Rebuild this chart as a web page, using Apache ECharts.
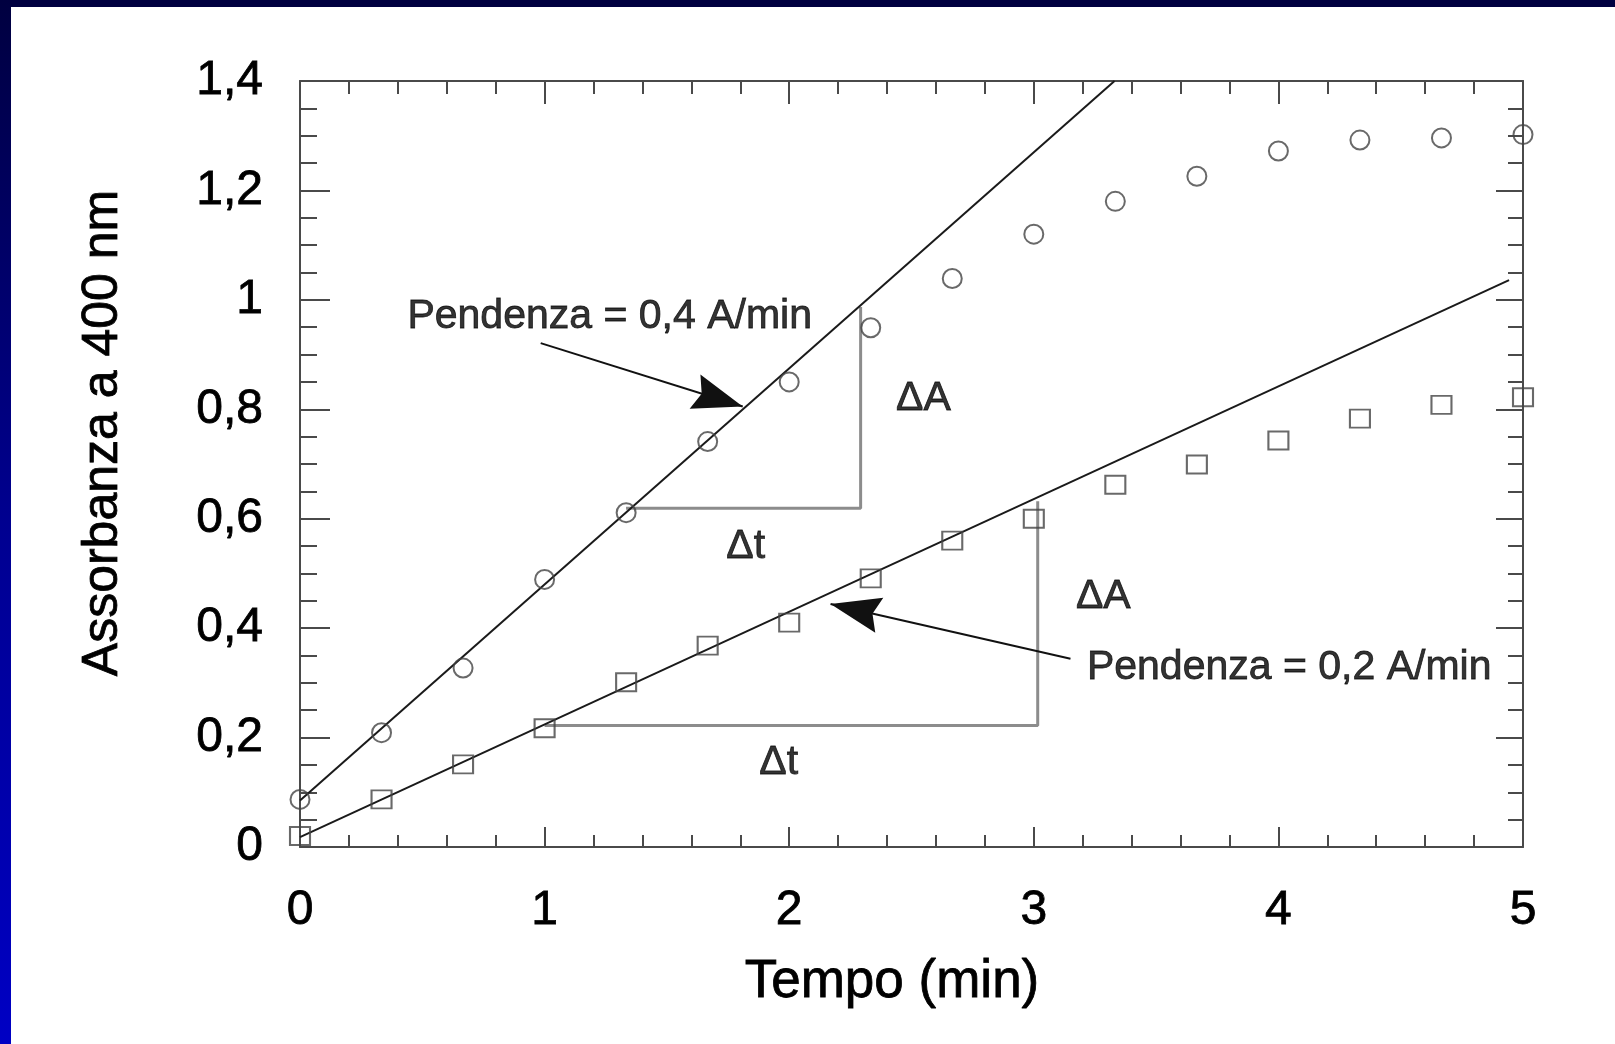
<!DOCTYPE html>
<html>
<head>
<meta charset="utf-8">
<script src="https://cdn.jsdelivr.net/npm/echarts@6/dist/echarts.min.js"></script>
<style>
html,body{margin:0;padding:0;background:#ffffff;overflow:hidden}
#c{width:1615px;height:1044px}
</style>
</head>
<body>
<div id="c"></div>
<script>
// ---- data ----
const xTickLabels = ['0','1','2','3','4','5'];
const yTickLabels = ['0','0,2','0,4','0,6','0,8','1','1,2','1,4'];
const timeMin = [0, 1/3, 2/3, 1, 4/3, 5/3, 2, 7/3, 8/3, 3, 10/3, 11/3, 4, 13/3, 14/3, 5];
const absFast = [0.087, 0.209, 0.327, 0.489, 0.611, 0.741, 0.850, 0.949, 1.039, 1.120, 1.180, 1.226, 1.272, 1.292, 1.296, 1.302];
const absSlow = [0.020, 0.087, 0.151, 0.217, 0.301, 0.368, 0.410, 0.491, 0.560, 0.600, 0.662, 0.699, 0.743, 0.783, 0.808, 0.822];
const fitFast = [[0, 0.085], [3.33, 1.4]];
const fitSlow = [[0, 0.018], [4.943, 1.036]];
const triFast = [[1.333, 0.619], [2.292, 0.619], [2.292, 0.987]];
const triSlow = [[1, 0.222], [3.016, 0.222], [3.016, 0.632]];
const arrowFrom = [[0.984, 0.921], [3.15, 0.344]];
const arrowTo = [[1.81, 0.805], [2.169, 0.444]];
const slopeLabels = ['Pendenza = 0,4 A/min', 'Pendenza = 0,2 A/min'];
const slopeLabelAt = [[0.437, 0.969], [3.215, 0.328]];
const deltaLabels = ['\u0394A', '\u0394t', '\u0394A', '\u0394t'];
const deltaLabelAt = [[2.549, 0.819], [1.822, 0.549], [3.284, 0.458], [1.957, 0.155]];
const xTitle = 'Tempo (min)';
const yTitle = 'Assorbanza a 400 nm';

const FONT = "'Liberation Sans', Arial, Helvetica, sans-serif";
const AX = '#4a4a4a';
// dart head whose tip sits at the centre of the symbol box (so the tip lands on the end point)
const DART = 'path://M0,0 M20,20 M10,10 L13.6,20 L10,18.6 L6.4,20 Z';

const chart = echarts.init(document.getElementById('c'), null, {renderer: 'canvas'});

function fmtY(v) {
  const i = Math.round(v / 0.2);
  return yTickLabels[i] !== undefined ? yTickLabels[i] : '';
}
function fmtX(v) {
  const i = Math.round(v);
  return xTickLabels[i] !== undefined ? xTickLabels[i] : '';
}

function axisStyle(majorLen, minorLen, split) {
  return {
    axisLine: {show: true, onZero: false, lineStyle: {color: AX, width: 2}},
    axisTick: {show: true, inside: true, length: majorLen, lineStyle: {color: AX, width: 2}},
    minorTick: {show: true, splitNumber: split, length: minorLen, lineStyle: {color: AX, width: 2}},
    splitLine: {show: false},
    minorSplitLine: {show: false}
  };
}
const heavy = {textBorderColor: '#000', textBorderWidth: 0.8};

const option = {
  backgroundColor: '#ffffff',
  animation: false,
  grid: {left: 300, right: 92, top: 81, bottom: 197, containLabel: false},
  xAxis: [
    Object.assign({
      type: 'value', position: 'bottom', min: 0, max: 5, interval: 1,
      axisLabel: Object.assign({show: true, margin: 40, fontSize: 48, color: '#000', fontFamily: FONT, formatter: fmtX}, heavy)
    }, axisStyle(20, 12, 5)),
    Object.assign({
      type: 'value', position: 'top', min: 0, max: 5, interval: 1,
      axisLabel: {show: false}
    }, axisStyle(23, 13, 5))
  ],
  yAxis: [
    Object.assign({
      type: 'value', position: 'left', min: 0, max: 1.4, interval: 0.2,
      axisLabel: Object.assign({show: true, margin: 37, fontSize: 48, color: '#000', fontFamily: FONT, formatter: fmtY}, heavy)
    }, axisStyle(30, 17, 4)),
    Object.assign({
      type: 'value', position: 'right', min: 0, max: 1.4, interval: 0.2,
      axisLabel: {show: false}
    }, axisStyle(27, 15, 4))
  ],
  graphic: [
    {type: 'rect', z: -10, shape: {x: 0, y: 0, width: 1615, height: 7}, style: {fill: '#000040'}},
    {type: 'rect', z: -10, shape: {x: 0, y: 0, width: 11, height: 1044},
      style: {fill: new echarts.graphic.LinearGradient(0, 0, 0, 1, [
        {offset: 0, color: '#000040'}, {offset: 0.5, color: '#000090'}, {offset: 1, color: '#0000c4'}])}},
    {type: 'text', x: 892, y: 982,
      style: {text: xTitle, fontSize: 53, fontFamily: FONT, fill: '#000', stroke: '#000', lineWidth: 0.8,
        align: 'center', verticalAlign: 'middle', textAlign: 'center', textVerticalAlign: 'middle'}},
    {type: 'text', x: 103, y: 433, rotation: Math.PI / 2,
      style: {text: yTitle, fontSize: 50, fontFamily: FONT, fill: '#000', stroke: '#000', lineWidth: 0.8,
        align: 'center', verticalAlign: 'middle', textAlign: 'center', textVerticalAlign: 'middle'}}
  ],
  series: [
    {
      type: 'line', name: 'fit fast', data: fitFast, showSymbol: false, symbol: 'none',
      lineStyle: {color: '#1a1a1a', width: 2}, z: 3, silent: true
    },
    {
      type: 'line', name: 'fit slow', data: fitSlow, showSymbol: false, symbol: 'none',
      lineStyle: {color: '#1a1a1a', width: 2}, z: 3, silent: true
    },
    {
      type: 'line', name: 'triangle fast', data: triFast, showSymbol: false, symbol: 'none',
      lineStyle: {color: '#8c8c8c', width: 3}, z: 2, silent: true
    },
    {
      type: 'line', name: 'triangle slow', data: triSlow, showSymbol: false, symbol: 'none',
      lineStyle: {color: '#8c8c8c', width: 3}, z: 2, silent: true
    },
    {
      type: 'scatter', name: 'circles', symbol: 'circle', symbolSize: 19,
      data: timeMin.map((t, i) => [t, absFast[i]]),
      itemStyle: {color: 'rgba(255,255,255,0)', borderColor: '#444', borderWidth: 2}, z: 4
    },
    {
      type: 'scatter', name: 'squares', symbol: 'rect', symbolSize: [20, 18],
      data: timeMin.map((t, i) => [t, absSlow[i]]),
      itemStyle: {color: 'rgba(255,255,255,0)', borderColor: '#444', borderWidth: 2}, z: 4
    },
    {
      type: 'lines', coordinateSystem: 'cartesian2d', xAxisIndex: 0, yAxisIndex: 0,
      symbol: ['none', DART], symbolSize: 100,
      lineStyle: {color: '#111', width: 2, opacity: 1, curveness: 0},
      data: arrowFrom.map((p, i) => ({coords: [p, arrowTo[i]]})), z: 5, silent: true
    },
    {
      type: 'scatter', name: 'slope labels', symbolSize: 1, itemStyle: {color: 'rgba(0,0,0,0)'},
      data: slopeLabelAt.map((p, i) => ({value: p, name: slopeLabels[i]})),
      label: Object.assign({show: true, position: 'right', distance: 0, formatter: '{b}', fontSize: 41,
        fontFamily: FONT, color: '#000'}, heavy), z: 6, silent: true
    },
    {
      type: 'scatter', name: 'delta labels', symbolSize: 1, itemStyle: {color: 'rgba(0,0,0,0)'},
      data: deltaLabelAt.map((p, i) => ({value: p, name: deltaLabels[i]})),
      label: Object.assign({show: true, position: 'inside', formatter: '{b}', fontSize: 41,
        fontFamily: FONT, color: '#000'}, heavy), z: 6, silent: true
    }
  ]
};
chart.setOption(option);
</script>
</body>
</html>
